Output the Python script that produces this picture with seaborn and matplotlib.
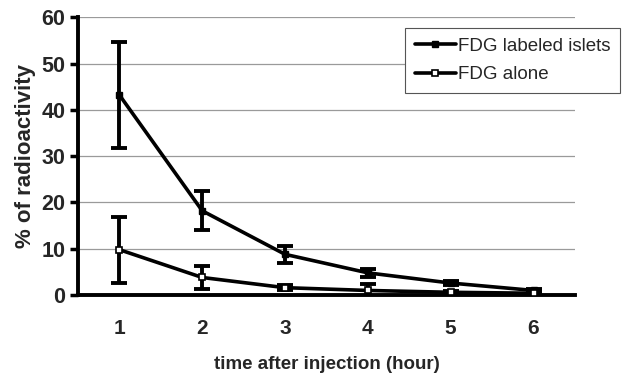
import matplotlib
matplotlib.use("Agg")
import matplotlib.pyplot as plt
import seaborn as sns
import pandas as pd
import numpy as np

hours = [1, 2, 3, 4, 5, 6]
islets_mean = [43.2, 18.2, 8.8, 4.8, 2.6, 1.0]
islets_err = [11.5, 4.2, 1.8, 0.8, 0.5, 0.3]
alone_mean = [9.8, 3.8, 1.6, 1.0, 0.6, 0.4]
alone_err = [7.1, 2.5, 0.5, 1.3, 0.2, 0.1]
series_names = ["FDG labeled islets", "FDG alone"]
yticks = [0, 10, 20, 30, 40, 50, 60]

sns.set_theme(style="white")
plt.rcParams['font.family'] = ['Liberation Sans', 'DejaVu Sans']

df = pd.DataFrame({
    "hour": hours * 2,
    "value": islets_mean + alone_mean,
    "series": [series_names[0]] * 6 + [series_names[1]] * 6,
})

fig = plt.figure(figsize=(6.42, 3.74), dpi=100)
ax = fig.add_axes([0.1215, 0.211, 0.774, 0.743])

for y in yticks[1:]:
    ax.axhline(y, color="#9a9a9a", lw=0.9, zorder=0)

ax.errorbar(hours, islets_mean, yerr=islets_err, fmt="none", ecolor="black",
            elinewidth=2.8, capsize=6, capthick=2.8, zorder=2)
ax.errorbar(hours, alone_mean, yerr=alone_err, fmt="none", ecolor="black",
            elinewidth=2.8, capsize=6, capthick=2.8, zorder=2)

n_before = len(ax.get_lines())
sns.lineplot(data=df, x="hour", y="value", hue="series", style="series",
             hue_order=series_names, style_order=series_names,
             palette=["black", "black"], markers={series_names[0]: "s", series_names[1]: "s"},
             dashes=False, linewidth=2.6, markersize=5, ax=ax, zorder=3)
new_lines = ax.get_lines()[n_before:]

def style_line(ln, idx):
    if idx == 1:
        ln.set_markerfacecolor("white")
        ln.set_markeredgecolor("black")
        ln.set_markeredgewidth(1.2)
        ln.set_markersize(5)
    else:
        ln.set_markerfacecolor("black")
        ln.set_markeredgecolor("black")
        ln.set_markeredgewidth(1.0)
        ln.set_markersize(5)

for i, ln in enumerate(new_lines[:2]):
    style_line(ln, i)

ax.set_xlim(0.5, 6.5)
ax.set_ylim(0, 60)
ax.set_yticks(yticks)
ax.set_xticks(hours)
ax.set_xticks([1.5, 2.5, 3.5, 4.5, 5.5, 6.5], minor=True)
ax.tick_params(axis="x", which="major", length=0, pad=17, labelsize=15)
ax.tick_params(axis="x", which="minor", length=6, width=2.5, direction="out", color="black")
ax.tick_params(axis="y", which="major", length=6, width=2.5, direction="out", color="black",
               labelsize=15.5, pad=3, left=True)
for lab in ax.get_xticklabels() + ax.get_yticklabels():
    lab.set_fontweight("bold")

for s in ["top", "right"]:
    ax.spines[s].set_visible(False)
for s in ["left", "bottom"]:
    ax.spines[s].set_linewidth(2.8)
    ax.spines[s].set_color("black")

ax.set_xlabel("time after injection (hour)", fontsize=13.5, fontweight="bold", labelpad=13)
ax.set_ylabel("% of radioactivity", fontsize=16, fontweight="bold", labelpad=4)

handles, labels = ax.get_legend_handles_labels()
leg = ax.legend(handles, labels, loc="upper right", bbox_to_anchor=(1.09, 0.96),
                borderaxespad=0,
                fontsize=13.5, frameon=True, fancybox=False, edgecolor="#555555",
                handlelength=2.2, handletextpad=0.1, borderpad=0.5, labelspacing=0.6)
leg.get_frame().set_linewidth(0.8)
leg.get_frame().set_alpha(1)
for i, h in enumerate(leg.legend_handles):
    h.set_linewidth(2.6)
    style_line(h, i)

fig.savefig("out.png", dpi=100, facecolor="white")
